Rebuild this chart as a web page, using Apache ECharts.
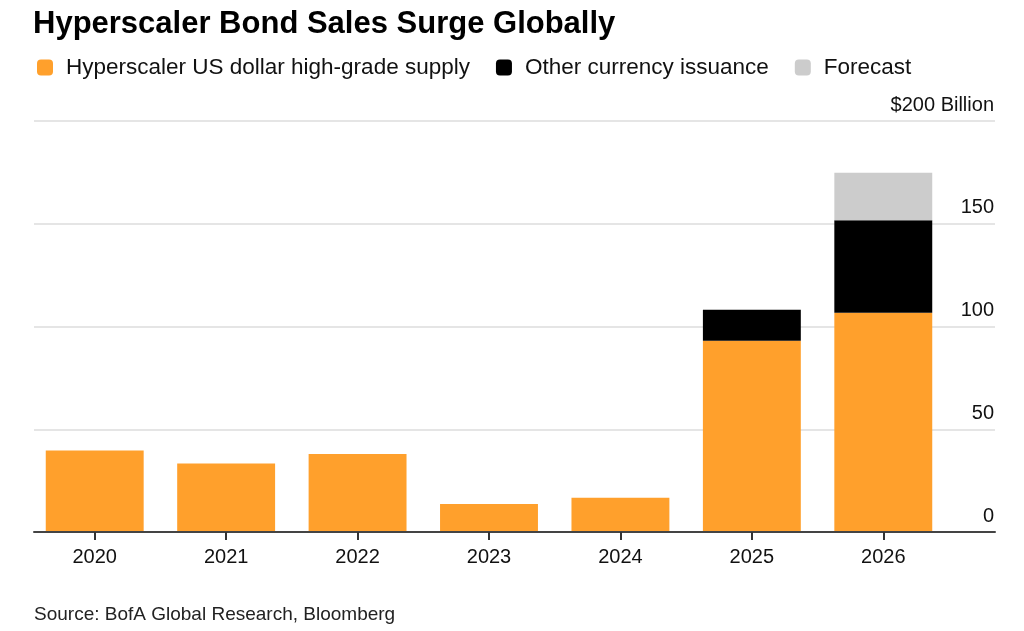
<!DOCTYPE html>
<html>
<head>
<meta charset="utf-8">
<script src="https://cdn.jsdelivr.net/npm/echarts@6/dist/echarts.min.js"></script>
<style>
html,body{margin:0;padding:0;background:#fff;}
#c{width:1024px;height:631px;}
</style>
</head>
<body>
<div id="c"></div>
<script>
const categories = ['2020','2021','2022','2023','2024','2025','2026'];
const usdSupply = [39.7, 33.3, 38.0, 13.6, 16.7, 93.1, 106.7];
const otherCurrency = [null, null, null, null, null, 15.1, 45.0];
const forecast = [null, null, null, null, null, null, 23.1];
const yTicks = [0, 50, 100, 150, 200];

const FONT = 'Liberation Sans';
const chart = echarts.init(document.getElementById('c'), null, {renderer:'canvas'});
const option = {
  backgroundColor: '#fff',
  animation: false,
  textStyle: {fontFamily: FONT},
  title: {
    text: 'Hyperscaler Bond Sales Surge Globally',
    left: 33, top: 9, padding: 0,
    textStyle: {fontFamily: FONT, fontSize: 31, fontWeight: 'bold', color: '#000'}
  },
  legend: {
    left: 32, top: 51,
    icon: 'roundRect',
    itemWidth: 16, itemHeight: 16,
    itemGap: 26,
    textStyle: {fontFamily: FONT, fontSize: 22.5, color: '#111', padding: [0,0,0,8]},
    data: ['Hyperscaler US dollar high-grade supply', 'Other currency issuance', 'Forecast']
  },
  graphic: [{
    type: 'text', left: 34, top: 605,
    style: {text: 'Source: BofA Global Research, Bloomberg', font: '19px "Liberation Sans"', fill: '#222'}
  }],
  grid: [
    {left: 34, right: 29, top: 121, bottom: 99},
    {left: 29, width: 920, top: 121, bottom: 99}
  ],
  xAxis: [
    {gridIndex: 0, type: 'value', min: 0, max: 1, z: 5,
     axisLine: {show: true, onZero: false, lineStyle: {color: '#444', width: 2}},
     axisTick: {show: false}, axisLabel: {show: false}, splitLine: {show: false}},
    {gridIndex: 1, type: 'category', data: categories, z: 6,
     axisLine: {show: false},
     axisTick: {show: true, alignWithLabel: true, length: 8, lineStyle: {color: '#333', width: 2}},
     axisLabel: {fontFamily: FONT, fontSize: 20, color: '#111', margin: 15}}
  ],
  yAxis: [
    {gridIndex: 0, type: 'value', position: 'right', min: 0, max: 200, interval: 50,
     axisLine: {show: false}, axisTick: {show: false},
     splitLine: {lineStyle: {color: '#dcdcdc', width: 1.5}},
     axisLabel: {inside: true, margin: 1, fontFamily: FONT, fontSize: 20, color: '#111',
       verticalAlign: 'bottom', padding: [0,0,6,0],
       formatter: v => v === yTicks[yTicks.length-1] ? '$' + v + ' Billion' : String(v)}},
    {gridIndex: 1, type: 'value', min: 0, max: 200, interval: 50, show: false}
  ],
  series: [
    {name: 'Hyperscaler US dollar high-grade supply', type: 'bar', stack: 'a',
     xAxisIndex: 1, yAxisIndex: 1, data: usdSupply, barCategoryGap: '25.5%',
     itemStyle: {color: '#FFA02C'}},
    {name: 'Other currency issuance', type: 'bar', stack: 'a',
     xAxisIndex: 1, yAxisIndex: 1, data: otherCurrency,
     itemStyle: {color: '#000000'}},
    {name: 'Forecast', type: 'bar', stack: 'a',
     xAxisIndex: 1, yAxisIndex: 1, data: forecast,
     itemStyle: {color: '#CCCCCC'}}
  ]
};
chart.setOption(option);
</script>
</body>
</html>
